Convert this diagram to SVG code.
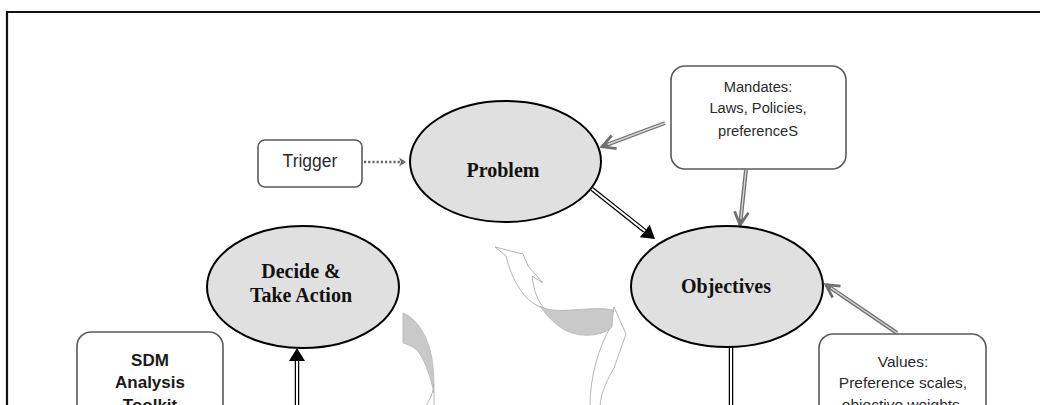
<svg xmlns="http://www.w3.org/2000/svg" width="1040" height="405" viewBox="0 0 1040 405">
<style>
.frame{fill:none;stroke:#111;stroke-width:2.2}
.ell{fill:#e0e0e0;stroke:#000;stroke-width:2}
.box{fill:#fff;stroke:#5a5a5a;stroke-width:1.6}
.serif{font-family:"Liberation Serif","Times New Roman",serif;font-weight:bold;font-size:20px;fill:#111;text-anchor:middle}
.sans{font-family:"Liberation Sans",Arial,sans-serif;fill:#2b2b2b;text-anchor:middle}
.sansb{font-family:"Liberation Sans",Arial,sans-serif;font-weight:bold;font-size:17px;fill:#1a1a1a;text-anchor:middle}
.dbl-o{fill:none;stroke:#000;stroke-width:4.5}
.dbl-i{fill:none;stroke:#fff;stroke-width:2}
.gr-o{fill:none;stroke:#707070;stroke-width:4}
.gr-i{fill:none;stroke:#d4d4d4;stroke-width:1.4}
.dot{fill:none;stroke:#666;stroke-width:2.4;stroke-dasharray:2.2 2}
.rib{fill:#fff;stroke:#b4b4b4;stroke-width:1}
.ribg{fill:#c9c9c9;stroke:#b4b4b4;stroke-width:0.8}
.ln{fill:none;stroke:#b4b4b4;stroke-width:1}
</style>
<defs>
<marker id="tri" viewBox="0 -9 14 18" refX="0" refY="0" markerWidth="14" markerHeight="18" markerUnits="userSpaceOnUse" orient="auto">
<path d="M0,-8 L13,0 L0,8 Z" fill="#000"/>
</marker>
<marker id="chev" viewBox="-15 -10 18 20" refX="0" refY="0" markerWidth="18" markerHeight="20" markerUnits="userSpaceOnUse" orient="auto">
<path d="M-13,-7 L0,0 L-13,7" fill="none" stroke="#707070" stroke-width="2.8"/>
</marker>
<marker id="dhead" viewBox="-8 -6 10 12" refX="0" refY="0" markerWidth="10" markerHeight="12" markerUnits="userSpaceOnUse" orient="auto">
<path d="M-6,-4.5 L1,0 L-6,4.5 L-4,0 Z" fill="#666"/>
</marker>
</defs>

<path class="frame" d="M7,406 L7,12 L1041,12"/>

<g id="decor">
<path class="ribg" d="M403,313 C420,320 431,343 433,367 C434,378 434,386 434,393 C431,378 425,360 417,350 C412,346 407,344 403,343 Z"/>
<path class="ln" d="M434,384 C433,393 430,400 425,407"/>
<path class="ln" d="M434,392 C434,398 434,402 434,407"/>
<path class="rib" d="M590,406 C590,378 598,348 611,326 L614,307 L626,334 L614,368 C608,378 601,392 600,406 Z"/>
<path class="rib" d="M495,247 L523,254 L528,266 L543,283 L532,276 C534,292 538,302 545,309 L540,307 C524,300 512,281 506,256 Z"/>
<path class="ribg" d="M540,306 C556,316 590,305 613,310 L612,327 C600,338 575,338 560,327 C552,321 546,315 540,306 Z"/>
</g>

<g id="connectors">
<path class="dot" d="M364,162 L405,162" marker-end="url(#dhead)"/>
<path class="gr-o" d="M665,123 L602,146.6" marker-end="url(#chev)"/>
<path class="gr-i" d="M665,123 L607.6,144.5"/>
<path class="gr-o" d="M746,170 L740.1,225" marker-end="url(#chev)"/>
<path class="gr-i" d="M746,170 L740.8,219"/>
<path class="gr-o" d="M897,333 L825.8,284.6" marker-end="url(#chev)"/>
<path class="gr-i" d="M897,333 L830.8,287.9"/>
<path class="dbl-o" d="M592,189 L644.8,230.9" marker-end="url(#tri)"/>
<path class="dbl-i" d="M592,189 L644.8,230.9"/>
<path class="dbl-o" d="M297,412 L297,361" marker-end="url(#tri)"/>
<path class="dbl-i" d="M297,412 L297,361"/>
<path class="dbl-o" d="M731,347 L731,412"/>
<path class="dbl-i" d="M731,347 L731,412"/>
</g>

<g id="trigger">
<rect class="box" x="258" y="140" width="104" height="47" rx="7"/>
<text class="sans" x="310" y="167" font-size="17.5">Trigger</text>
</g>
<g id="problem">
<ellipse class="ell" cx="505.5" cy="161.5" rx="95.5" ry="60.5"/>
<text class="serif" x="503" y="177">Problem</text>
</g>
<g id="mandates">
<rect class="box" x="671" y="66" width="175" height="103" rx="14"/>
<text class="sans" x="758" y="92" font-size="14.7">Mandates:</text>
<text class="sans" x="758" y="113" font-size="14.7">Laws, Policies,</text>
<text class="sans" x="758" y="136" font-size="14.7">preferenceS</text>
</g>
<g id="decide">
<ellipse class="ell" cx="303" cy="287" rx="96" ry="61"/>
<text class="serif" x="301" y="278">Decide &amp;</text>
<text class="serif" x="301" y="302">Take Action</text>
</g>
<g id="objectives">
<ellipse class="ell" cx="727" cy="286.5" rx="96" ry="60.5"/>
<text class="serif" x="726" y="293">Objectives</text>
</g>
<g id="sdm">
<rect class="box" x="77" y="332" width="146" height="120" rx="14"/>
<text class="sansb" x="150" y="366">SDM</text>
<text class="sansb" x="150" y="388">Analysis</text>
<text class="sansb" x="150" y="411">Toolkit</text>
</g>
<g id="values">
<rect class="box" x="819" y="334" width="167" height="100" rx="14"/>
<text class="sans" x="903" y="367" font-size="15.5">Values:</text>
<text class="sans" x="903" y="388" font-size="15.5">Preference scales,</text>
<text class="sans" x="903" y="410" font-size="15.5">objective weights,</text>
</g>
</svg>
